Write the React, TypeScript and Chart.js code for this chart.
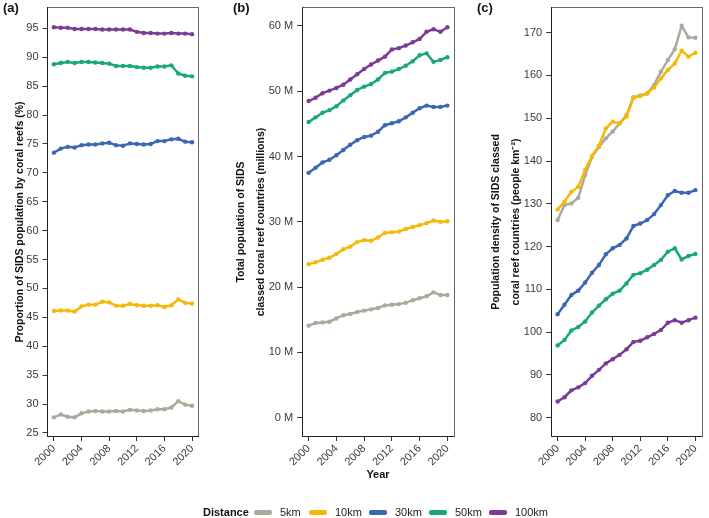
import React, { useEffect, useRef } from 'react';
import { Chart, registerables } from 'chart.js';
Chart.register(...registerables);

const years = [2000, 2001, 2002, 2003, 2004, 2005, 2006, 2007, 2008, 2009, 2010, 2011, 2012, 2013, 2014, 2015, 2016, 2017, 2018, 2019, 2020];
const xTickValues = [2000, 2004, 2008, 2012, 2016, 2020];
const seriesNames = ['5km', '10km', '30km', '50km', '100km'];
const seriesColors = ['#a7ac9c', '#f5b80b', '#3a68b2', '#1aa67b', '#7c3b96'];

// Panel (a): proportion of SIDS population (%)
const prop5km = [27.7, 28.2, 27.8, 27.7, 28.4, 28.7, 28.8, 28.7, 28.7, 28.8, 28.7, 29.0, 28.9, 28.8, 28.9, 29.1, 29.1, 29.4, 30.5, 29.9, 29.7];
const prop10km = [46.1, 46.2, 46.2, 46.0, 46.9, 47.2, 47.2, 47.7, 47.6, 47.0, 47.0, 47.3, 47.1, 47.0, 47.0, 47.1, 46.8, 47.1, 48.1, 47.5, 47.4];
const prop30km = [73.5, 74.2, 74.5, 74.4, 74.8, 74.9, 74.9, 75.1, 75.2, 74.8, 74.7, 75.1, 75.0, 74.9, 75.0, 75.5, 75.5, 75.8, 75.9, 75.4, 75.3];
const prop50km = [88.8, 89.0, 89.2, 89.0, 89.2, 89.2, 89.1, 89.0, 88.9, 88.5, 88.5, 88.5, 88.3, 88.2, 88.2, 88.4, 88.4, 88.6, 87.2, 86.8, 86.7];
const prop100km = [95.2, 95.1, 95.1, 94.9, 94.9, 94.9, 94.9, 94.8, 94.8, 94.8, 94.8, 94.8, 94.4, 94.2, 94.2, 94.1, 94.1, 94.2, 94.1, 94.1, 94.0];
const propTicks = [25, 30, 35, 40, 45, 50, 55, 60, 65, 70, 75, 80, 85, 90, 95];

// Panel (b): total population (millions)
const pop5km = [14.1, 14.5, 14.6, 14.7, 15.2, 15.7, 15.9, 16.2, 16.4, 16.6, 16.8, 17.2, 17.3, 17.4, 17.6, 18.0, 18.3, 18.6, 19.2, 18.8, 18.8];
const pop10km = [23.5, 23.8, 24.2, 24.5, 25.1, 25.8, 26.2, 26.9, 27.2, 27.1, 27.6, 28.3, 28.4, 28.5, 28.9, 29.2, 29.5, 29.8, 30.2, 30.0, 30.1];
const pop30km = [37.5, 38.3, 39.1, 39.5, 40.2, 41.0, 41.8, 42.5, 43.0, 43.2, 43.8, 44.8, 45.1, 45.4, 46.0, 46.7, 47.4, 47.8, 47.6, 47.6, 47.8];
const pop50km = [45.3, 46.0, 46.7, 47.1, 47.7, 48.6, 49.4, 50.2, 50.7, 51.1, 51.8, 52.8, 53.0, 53.4, 53.9, 54.6, 55.5, 55.8, 54.5, 54.8, 55.2];
const pop100km = [48.5, 49.0, 49.7, 50.1, 50.5, 51.0, 51.8, 52.6, 53.4, 54.1, 54.7, 55.3, 56.4, 56.6, 57.0, 57.5, 58.0, 59.1, 59.5, 59.1, 59.8];
const popTicks = [0, 10, 20, 30, 40, 50, 60];

// Panel (c): population density (people km-2)
const dens5km = [126.2, 129.7, 130.1, 131.4, 136.7, 141.0, 143.3, 145.3, 146.9, 148.8, 150.7, 154.9, 155.3, 155.8, 157.8, 160.9, 163.6, 166.1, 171.6, 168.9, 168.8];
const dens10km = [128.7, 130.5, 132.8, 134.0, 137.9, 141.2, 143.6, 147.6, 149.2, 148.8, 150.4, 154.8, 155.2, 155.8, 157.2, 159.3, 161.3, 162.8, 165.8, 164.4, 165.3];
const dens30km = [104.2, 106.4, 108.7, 109.7, 111.6, 113.9, 115.7, 118.2, 119.6, 120.4, 121.9, 124.8, 125.4, 126.2, 127.6, 129.7, 132.0, 133.0, 132.6, 132.6, 133.2];
const dens50km = [96.9, 98.2, 100.4, 101.2, 102.5, 104.6, 106.2, 107.7, 109.0, 109.7, 111.4, 113.4, 113.8, 114.6, 115.7, 116.9, 118.8, 119.6, 117.0, 117.8, 118.3];
const dens100km = [83.8, 84.8, 86.4, 87.1, 88.1, 89.8, 91.2, 92.7, 93.7, 94.7, 96.0, 97.7, 98.0, 98.8, 99.6, 100.5, 102.2, 102.8, 102.2, 102.8, 103.4];
const densTicks = [80, 90, 100, 110, 120, 130, 140, 150, 160, 170];

const FONT = '"Liberation Sans", Arial, Helvetica, sans-serif';
const TICK_COLOR = '#3a3a3a';

const framePlugin = {
  id: 'frame',
  afterDraw(chart: any) {
    const { ctx, chartArea: a } = chart;
    ctx.save();
    ctx.strokeStyle = '#666';
    ctx.lineWidth = 1;
    ctx.strokeRect(Math.round(a.left) + 0.5, Math.round(a.top) + 0.5, Math.round(a.right - a.left) - 1, Math.round(a.bottom - a.top) - 1);
    ctx.beginPath();
    ctx.strokeStyle = '#222';
    ctx.moveTo(Math.round(a.left) + 0.5, Math.round(a.top));
    ctx.lineTo(Math.round(a.left) + 0.5, Math.round(a.bottom) - 0.5);
    ctx.lineTo(Math.round(a.right), Math.round(a.bottom) - 0.5);
    ctx.stroke();
    ctx.restore();
  },
};

type PanelProps = {
  left: number;
  width: number;
  padRight: number;
  yWidth: number;
  title: string | string[];
  titleLineHeight: number;
  titlePad: number;
  yMin: number;
  yMax: number;
  yTicks: number[];
  suffix: string;
  series: number[][];
};

function Panel(p: PanelProps) {
  const ref = useRef<HTMLCanvasElement>(null);
  useEffect(() => {
    const chart = new Chart(ref.current as HTMLCanvasElement, {
      type: 'line',
      data: {
        datasets: p.series.map((s, i) => ({
          label: seriesNames[i],
          data: years.map((yr, j) => ({ x: yr, y: s[j] })),
          borderColor: seriesColors[i],
          backgroundColor: seriesColors[i],
          borderWidth: 2.5,
          pointRadius: 2.2,
          pointBorderWidth: 0,
          pointHoverRadius: 0,
          tension: 0,
          order: 5 - i,
        })),
      },
      options: {
        animation: false,
        responsive: false,
        events: [],
        layout: { padding: { left: 0, right: p.padRight, top: 27, bottom: 0 } },
        plugins: { legend: { display: false }, tooltip: { enabled: false } },
        scales: {
          x: {
            type: 'linear',
            min: 1999,
            max: 2021,
            afterBuildTicks: (s: any) => {
              s.ticks = xTickValues.map((v) => ({ value: v }));
            },
            afterFit: (s: any) => {
              s.height = 33;
            },
            ticks: {
              autoSkip: false,
              minRotation: 45,
              maxRotation: 45,
              padding: 1,
              color: TICK_COLOR,
              font: { family: FONT, size: 11 },
              callback: (v: any) => String(v),
            },
            grid: { display: true, drawOnChartArea: false, drawTicks: true, tickLength: 4, color: '#333' },
            border: { display: false },
          },
          y: {
            type: 'linear',
            min: p.yMin,
            max: p.yMax,
            afterBuildTicks: (s: any) => {
              s.ticks = p.yTicks.map((v) => ({ value: v }));
            },
            afterFit: (s: any) => {
              s.width = p.yWidth;
            },
            ticks: {
              autoSkip: false,
              padding: 4,
              color: TICK_COLOR,
              font: { family: FONT, size: 11 },
              callback: (v: any) => String(v) + p.suffix,
            },
            grid: { display: true, drawOnChartArea: false, drawTicks: true, tickLength: 4.5, color: '#333' },
            border: { display: false },
            title: {
              display: true,
              text: p.title,
              color: '#111',
              font: { family: FONT, size: 10.5, weight: 'bold', lineHeight: p.titleLineHeight + 'px' },
              padding: { top: p.titlePad, bottom: 0 },
            },
          },
        },
      },
      plugins: [framePlugin],
    } as any);
    return () => chart.destroy();
  }, []);
  return (
    <canvas
      ref={ref}
      width={p.width}
      height={490}
      style={{ position: 'absolute', left: p.left, top: -20, width: p.width, height: 490 }}
    />
  );
}

const labelStyle: React.CSSProperties = {
  position: 'absolute',
  fontFamily: FONT,
  fontWeight: 'bold',
  fontSize: 13,
  lineHeight: '16px',
  color: '#111',
  whiteSpace: 'nowrap',
};

const legendX = [254, 309, 369, 429, 489];
const legendTextX = [280, 335, 395, 455, 515];

export default function App() {
  return (
    <div
      style={{
        position: 'fixed',
        left: 0,
        top: 0,
        width: 709,
        height: 518,
        background: '#fff',
        overflow: 'hidden',
      }}
    >
      <Panel
        left={0}
        width={205}
        padRight={6}
        yWidth={47}
        title="Proportion of SIDS population by coral reefs (%)"
        titleLineHeight={12.6}
        titlePad={13.7}
        yMin={24.3}
        yMax={98.7}
        yTicks={propTicks}
        suffix=""
        series={[prop5km, prop10km, prop30km, prop50km, prop100km]}
      />
      <Panel
        left={230}
        width={230}
        padRight={5.7}
        yWidth={71.7}
        title={['Total population of SIDS', 'classed coral reef countries (millions)']}
        titleLineHeight={20}
        titlePad={0.7}
        yMin={-2.95}
        yMax={62.9}
        yTicks={popTicks}
        suffix=" M"
        series={[pop5km, pop10km, pop30km, pop50km, pop100km]}
      />
      <Panel
        left={460}
        width={249}
        padRight={6.7}
        yWidth={90.7}
        title={['Population density of SIDS classed', 'coral reef countries (people km\u207B\u00B2)']}
        titleLineHeight={20}
        titlePad={25.7}
        yMin={75.5}
        yMax={176}
        yTicks={densTicks}
        suffix=""
        series={[dens5km, dens10km, dens30km, dens50km, dens100km]}
      />
      <div style={{ ...labelStyle, left: 3, top: 0 }}>(a)</div>
      <div style={{ ...labelStyle, left: 233, top: 0 }}>(b)</div>
      <div style={{ ...labelStyle, left: 477, top: 0 }}>(c)</div>
      <div
        style={{
          ...labelStyle,
          fontSize: 11,
          lineHeight: '14px',
          left: 378,
          top: 467,
          transform: 'translateX(-50%)',
        }}
      >
        Year
      </div>
      <div style={{ ...labelStyle, fontSize: 11, lineHeight: '14px', left: 203, top: 505 }}>Distance</div>
      {seriesNames.map((name, i) => (
        <React.Fragment key={name}>
          <div
            style={{
              position: 'absolute',
              left: legendX[i],
              top: 509.5,
              width: 18,
              height: 5,
              borderRadius: 2,
              background: seriesColors[i],
            }}
          />
          <div
            style={{
              position: 'absolute',
              left: legendTextX[i],
              top: 505,
              fontFamily: FONT,
              fontSize: 11,
              lineHeight: '14px',
              color: '#222',
              whiteSpace: 'nowrap',
            }}
          >
            {name}
          </div>
        </React.Fragment>
      ))}
    </div>
  );
}
